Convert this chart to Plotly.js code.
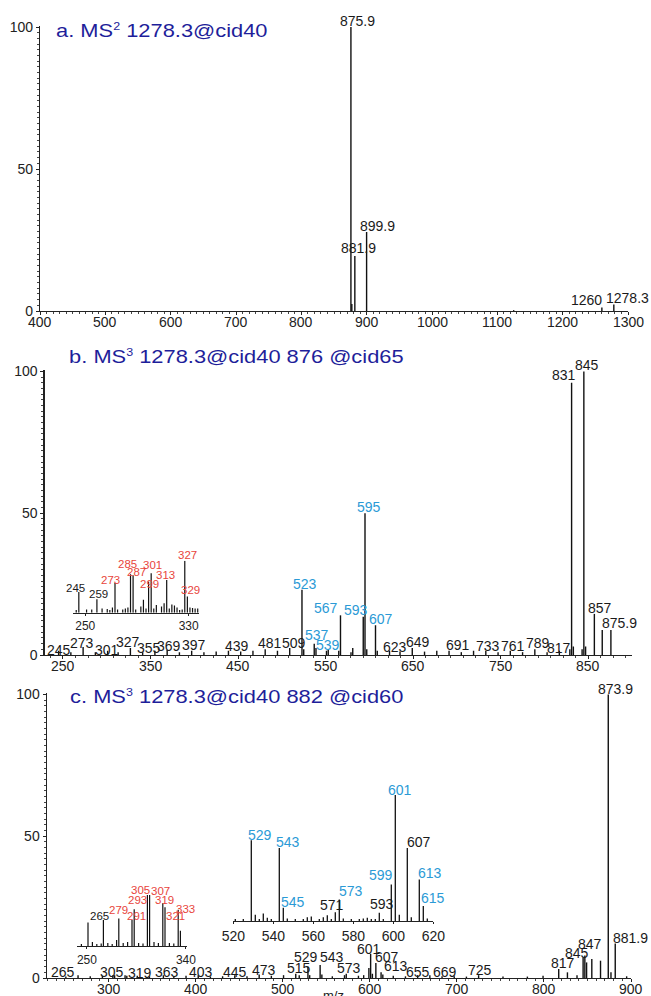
<!DOCTYPE html>
<html><head><meta charset="utf-8">
<script src="https://cdn.plot.ly/plotly-3.0.1.min.js"></script>
<style>
html,body{margin:0;padding:0;background:#fff}
#chart{width:651px;height:996px}
g.annotation[data-index="0"] text, g.annotation[data-index="1"] text, g.annotation[data-index="2"] text{
  transform-box: fill-box; transform-origin: left center; transform: scaleX(1.25);
}
</style>
</head><body><div id="chart"></div>
<script>
// ================= DATA =================
// Panel a: MS2 1278.3@cid40
const mzA  = [875.9, 877.3, 881.9, 899.9, 1125, 1260, 1278.3];
const intA = [100, 2.5, 19.4, 27.8, 0.3, 1.2, 2.3];
const labA_black = ['875.9','881.9','899.9','1260','1278.3'];
const ticksA = [400,500,600,700,800,900,1000,1100,1200,1300];

// Panel b: MS3 1278.3@cid40 876 @cid65
const mzB  = [245,259,273,287,301,313,327,341,355,369,383,397,411,425,439,453,467,481,495,509,523,525,537,539,551,553,565,567,579,581,593,595,597,607,609,623,635,649,663,677,691,705,719,733,747,761,775,789,803,817,829,831,833,843,845,847,857,866,875.9];
const intB = [1.5,1,2.8,1,1.5,1,2.5,1,1.5,1.8,1,1.5,1,1.2,1.5,1.2,1.5,2,1.5,2.5,23,2,4,2.5,1.5,2,1.5,14,1,2.5,13.5,50,2,10.5,1.5,1.5,1.2,2.5,1.2,1.5,1.5,1,1.5,1.5,1,1.5,1,2,1,1.5,2,96,3,2,100,3,14.5,8.8,8.8];
const labB_black = ['245','273','301','327','355','369','397','439','481','509','623','649','691','733','761','789','817','831','845','857','875.9'];
const labB_blue  = ['523','537','539','567','593','595','607'];
const ticksB = [250,350,450,550,650,750,850];

// Panel b inset (m/z 250-330), relative intensity
const mzIB  = [243,245,251,255,259,263,267,269,271,273,275,279,281,283,285,287,289,293,295,297,299,301,303,305,309,311,313,315,317,319,321,323,325,327,329,331,333,335,337];
const intIB = [5,40,6,6,26,8,7,5,10,57,6,6,8,10,74,72,6,12,25,8,60,76,8,15,12,18,63,8,16,14,10,5,6,100,31,10,9,8,8];
const labIB_black = ['245','259'];
const labIB_red   = ['273','285','287','299','301','313','327','329'];
const tickIB = [250, 330];

// Panel c: MS3 1278.3@cid40 882 @cid60
const mzC  = [251,265,279,293,305,307,319,321,333,347,363,375,389,403,417,431,445,459,473,487,501,515,519,529,531,543,545,557,571,573,587,593,599,601,603,607,613,615,627,641,655,669,683,697,711,725,753,781,799,817,827,838,845,847,849,855,865,873.9,877,881.9,895];
const intC = [0.5,1,0.6,0.8,1,1,1,0.8,0.8,0.5,1,0.6,0.8,1,0.5,0.6,1,0.6,1.2,0.8,1,1.5,1,4,1,4.6,1.2,0.6,1,1.5,0.8,1,3.5,8.5,1.5,5.3,2,1.2,0.8,0.6,1,1,0.6,0.6,0.5,1,0.5,0.5,0.8,3.2,2,1,7.3,7.9,5.5,6.7,6.1,100,2,12.2,0.6];
const labC_black = ['265','305','319','363','403','445','473','515','529','543','573','601','607','613','655','669','725','817','845','847','873.9','881.9'];
const ticksC = [300,400,500,600,700,800,900];

// Panel c inset 1 (m/z 250-340)
const mzIC1  = [245,251,255,259,263,265,269,273,277,279,283,287,291,293,297,301,305,307,311,315,319,321,325,329,333,335];
const intIC1 = [4,46,8,4,5,51,6,4,12,54,6,8,51,72,6,5,100,100,8,6,84,76,6,5,71,30];
const labIC1_black = ['265'];
const labIC1_red   = ['279','291','293','305','307','319','321','333'];
const tickIC1 = [250, 340];

// Panel c inset 2 (m/z 520-620)
const mzIC2  = [521,525,529,531,533,535,537,539,543,545,547,551,555,557,559,563,565,567,569,571,573,575,579,583,585,587,589,591,593,595,599,601,603,607,609,613,615,617];
const intIC2 = [1.5,1.5,64,5,1.5,6,2.5,1.5,58,10.5,2,1.5,1.5,3,3.5,1.5,3,4.5,1.5,7,17,2,1.5,1.5,2,2.5,1.5,1.5,6.6,1.5,29,100,5,58,3,33,12,2];
const labIC2_black = ['571','593','607'];
const labIC2_blue  = ['529','543','545','573','599','601','613','615'];
const tickIC2 = [520,540,560,580,600,620];

const SUP = s => '<sup><span style="font-size:10px">' + s + '</span></sup>';
const titles = ['a. MS' + SUP('2') + ' 1278.3@cid40', 'b. MS' + SUP('3') + ' 1278.3@cid40 876 @cid65', 'c. MS' + SUP('3') + ' 1278.3@cid40 882 @cid60'];

// ================= STYLE / GEOMETRY =================
const W = 651, H = 996;
const FONT = 'Liberation Sans, Arial, sans-serif';
const BLACK = '#1a1a1a', BLUE = '#2b9ad6', RED = '#e8453c', TITLE = '#1e1e9a';
const xd = (a, b) => [a / W, b / W];
const yd = (top, bottom) => [1 - bottom / H, 1 - top / H];

// label offsets [dx, dyUp] in px (style only)
const offA = {'875.9':[7,6],'881.9':[4,7.5],'899.9':[11,6],'1260':[-15,8],'1278.3':[14,6]};
const offB = {'245':[0,1],'273':[-1,4],'301':[-1,1],'327':[-2,6],'355':[-6,3],'369':[2,4],'397':[2,6],'439':[9,5],'481':[5,6],'509':[4,5],'623':[5,4],'649':[6,6],'691':[9,6],'733':[2,5],'761':[3,5],'789':[3,6],'817':[0,3],'831':[-8,8],'845':[3,6.5],'857':[6,6],'875.9':[9,7],'523':[3,6],'537':[3,9],'539':[12,3],'567':[-14,7],'593':[-7,7],'595':[4,6.5],'607':[5,6]};
const offC = {'265':[-15,3.5],'305':[-1,3.5],'319':[15,2.5],'363':[4,3.5],'403':[3,3.5],'445':[0,3.5],'473':[5,4.6],'515':[3,5.4],'529':[-2,10],'543':[12,8.3],'573':[3,6],'601':[-2,4.6],'607':[11,6.3],'613':[15,6.6],'655':[0,3.5],'669':[15,3.5],'725':[1,5],'817':[4,5.6],'845':[-6,4.6],'847':[5,11.6],'873.9':[7.5,5.5],'881.9':[15,5.7]};
const offIB = {'245':[-3,4],'259':[2,5],'273':[-4.5,3],'285':[-3.4,10],'287':[3,3],'299':[1,-2],'301':[1.3,8],'313':[-1.6,5],'327':[2.3,5.7],'329':[3,7]};
const offIC1 = {'265':[-4,4],'279':[0,8],'291':[4,4],'293':[3,9],'305':[-7,5],'307':[11,4],'319':[2,3],'321':[10,-9],'333':[7,0.5]};
const offIC2 = {'529':[9,5],'543':[9,6],'545':[10,6],'571':[-3,7],'573':[12,9],'593':[3,9],'599':[-10,9.5],'601':[5,5],'607':[12,6],'613':[11,6],'615':[10,7.5]};

function sticks(mz, it, xa, ya, w) {
  const x = [], y = [];
  mz.forEach((m, i) => { x.push(m, m, null); y.push(0, it[i], null); });
  return {type:'scatter', mode:'lines', x, y, xaxis:xa, yaxis:ya, connectgaps:false,
          line:{color:'#111', width:w}, hoverinfo:'skip', showlegend:false};
}
function labels(texts, mz, it, xa, ya, color, size, offs) {
  return texts.map(t => {
    const v = parseFloat(t);
    let k = 0, best = 1e9;
    mz.forEach((m, i) => { const d = Math.abs(m - v); if (d < best) { best = d; k = i; } });
    const o = offs[t] || [0, 6];
    return {xref:xa, yref:ya, x:mz[k], y:it[k], text:t, showarrow:false,
            xanchor:'center', yanchor:'middle', xshift:o[0], yshift:o[1],
            font:{family:FONT, size:size, color:color}};
  });
}
// x tick labels drawn just under the axis (the reference sets them tight to the axis)
function tickLabels(vals, xa, axisPx) {
  return vals.map(v => ({xref:xa, yref:'paper', x:v, y:1 - (axisPx + 10.5) / H, text:String(v),
    showarrow:false, xanchor:'center', yanchor:'middle', font:{family:FONT, size:14, color:'#222'}}));
}

const axBase = {showline:true, linecolor:'#222', linewidth:1.2, ticks:'outside', tickcolor:'#222',
  ticklen:3, tickwidth:1, showgrid:false, zeroline:false, fixedrange:true, automargin:false,
  tickfont:{family:FONT, size:14, color:'#222'}};
const xMain = (a, b, range, t0, anchor, mdt, mt0) => Object.assign({}, axBase, {
  domain: xd(a, b), range: range, tickmode:'linear', tick0:t0, dtick:100, anchor:anchor, showticklabels:false,
  minor:{ticks:'outside', ticklen:2, tick0:mt0, dtick:mdt, tickcolor:'#444'}});
const yMain = (top, bottom, anchor) => Object.assign({}, axBase, {
  domain: yd(top, bottom), range:[0, 100.5], tickmode:'linear', tick0:0, dtick:50, anchor:anchor,
  minor:{ticks:'outside', ticklen:2, dtick:2, tickcolor:'#444', tickwidth:1}});
const insetX = (a, b, range, tv, fs, anchor) => ({
  domain: xd(a, b), range: range, anchor: anchor, showline:true, linecolor:'#222', linewidth:1.1,
  ticks:'outside', ticklen:2, tickcolor:'#222', tickmode:'array', tickvals: tv, ticktext: tv.map(String),
  showgrid:false, zeroline:false, fixedrange:true, automargin:false,
  tickfont:{family:FONT, size:fs, color:'#222'}});
const insetY = (top, bottom, anchor) => ({domain: yd(top, bottom), range:[0,100], anchor:anchor,
  visible:false, fixedrange:true});

const layout = {
  width:W, height:H, margin:{l:0, r:0, t:0, b:0}, paper_bgcolor:'#fff', plot_bgcolor:'rgba(0,0,0,0)',
  showlegend:false, font:{family:FONT, color:'#222'},
  xaxis:  xMain(40, 628, [400,1300], 400, 'y', 10, 400),
  yaxis:  yMain(311 - 100.5*2.84, 311, 'x'),
  xaxis2: xMain(44.6, 632, [229,900], 250, 'y2', 100/7, 250),
  yaxis2: yMain(655 - 100.5*2.835, 655, 'x2'),
  xaxis3: xMain(46.7, 631, [229,900], 300, 'y3', 10, 300),
  yaxis3: yMain(978 - 100.5*2.835, 978, 'x3'),
  xaxis4: insetX(73, 199, [240.5, 338], tickIB, 12, 'y4'),
  yaxis4: insetY(560.7, 612.7, 'x4'),
  xaxis5: insetX(77, 187, [241, 341], tickIC1, 12, 'y5'),
  yaxis5: insetY(895, 946, 'x5'),
  xaxis6: insetX(233.3, 433.3, [520, 620], tickIC2, 14, 'y6'),
  yaxis6: insetY(795, 921, 'x6'),
  annotations: []
};

const titlePos = [[54, 31], [67, 357], [68, 697]];
titles.forEach((t, i) => layout.annotations.push({xref:'paper', yref:'paper', x:titlePos[i][0]/W, y:1 - titlePos[i][1]/H,
  xanchor:'left', yanchor:'middle', showarrow:false, text:t, font:{family:FONT, size:17.5, color:TITLE}}));
layout.annotations.push({xref:'paper', yref:'paper', x:333/W, y:1 - 995/H, xanchor:'center', yanchor:'middle',
  showarrow:false, text:'m/z', font:{family:FONT, size:13, color:'#222'}});

layout.annotations.push(
  ...tickLabels(ticksA, 'x', 311),
  ...tickLabels(ticksB, 'x2', 655),
  ...tickLabels(ticksC, 'x3', 978),
  ...labels(labA_black, mzA, intA, 'x', 'y', BLACK, 14, offA),
  ...labels(labB_black, mzB, intB, 'x2', 'y2', BLACK, 14, offB),
  ...labels(labB_blue, mzB, intB, 'x2', 'y2', BLUE, 14, offB),
  ...labels(labC_black, mzC, intC, 'x3', 'y3', BLACK, 14, offC),
  ...labels(labIB_black, mzIB, intIB, 'x4', 'y4', BLACK, 11.5, offIB),
  ...labels(labIB_red, mzIB, intIB, 'x4', 'y4', RED, 11.5, offIB),
  ...labels(labIC1_black, mzIC1, intIC1, 'x5', 'y5', BLACK, 11.5, offIC1),
  ...labels(labIC1_red, mzIC1, intIC1, 'x5', 'y5', RED, 11.5, offIC1),
  ...labels(labIC2_black, mzIC2, intIC2, 'x6', 'y6', BLACK, 14, offIC2),
  ...labels(labIC2_blue, mzIC2, intIC2, 'x6', 'y6', BLUE, 14, offIC2)
);

const data = [
  sticks(mzA, intA, 'x', 'y', 1.4),
  sticks(mzB, intB, 'x2', 'y2', 1.4),
  sticks(mzC, intC, 'x3', 'y3', 1.4),
  sticks(mzIB, intIB, 'x4', 'y4', 1.2),
  sticks(mzIC1, intIC1, 'x5', 'y5', 1.2),
  sticks(mzIC2, intIC2, 'x6', 'y6', 1.3)
];

Plotly.newPlot('chart', data, layout, {staticPlot:true, displayModeBar:false});
</script>
</body></html>
